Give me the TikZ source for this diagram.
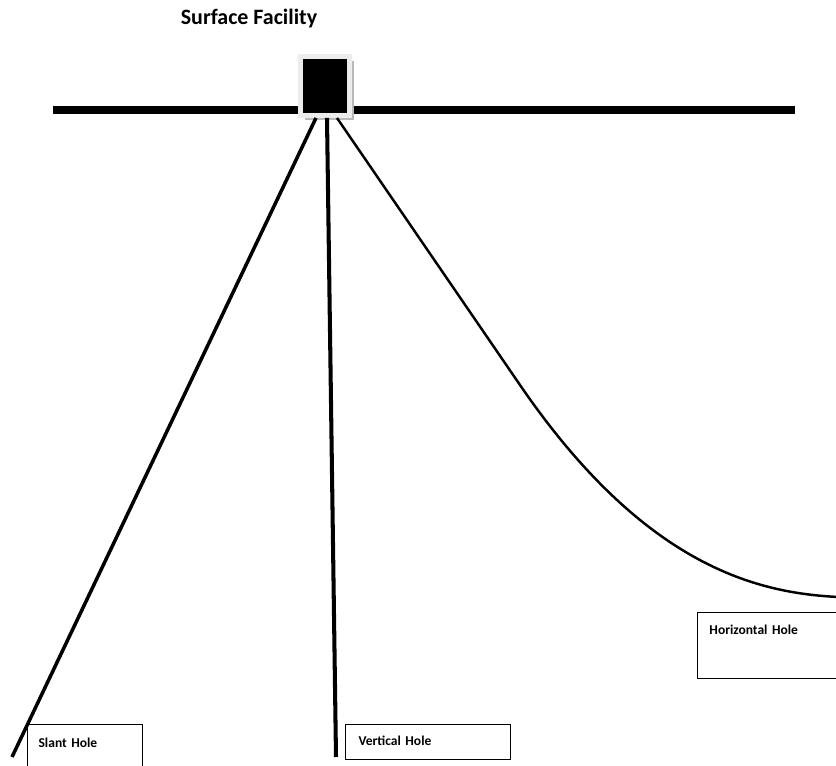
\documentclass[tikz,border=0pt]{standalone}
\usepackage{fontspec}
\setmainfont{Carlito}
\usetikzlibrary{calc,shadows}
\tikzset{
  holebox/.style={draw=black, line width=0.6pt, anchor=north west, align=left, inner ysep=0pt, font=\fontsize{7.7}{9}\selectfont\bfseries},
  facility/.style={shape=rectangle, fill=black, draw=gray!15, line width=2.8pt, inner sep=0pt,
    general shadow={fill=gray!55, shadow xshift=2.5pt, shadow yshift=-2.5pt}}
}
\begin{document}
\begin{tikzpicture}[x=0.02cm, y=-0.02cm]
            \useasboundingbox (0,0) rectangle (836,766);
            \node[font=\fontsize{12.5}{15}\selectfont\bfseries] (title) at (249,19) {Surface Facility};

            \coordinate (gl) at (53,110);
            \coordinate (gr) at (795,110);
            \path[draw=black,line width=4pt] (gl) edge (gr);

            \node[facility, minimum width=27.9pt, minimum height=33.6pt] (fac) at (325,86) {};

            \node[holebox, inner xsep=6.3pt, text width=52.8pt, text height=13.3pt, text depth=16.7pt] (slant) at (27,724) {Slant Hole};
            \node[holebox, inner xsep=7.4pt, text width=79.1pt, text height=12.2pt, text depth=7.8pt] (vert) at (345,724) {Vertical Hole};
            \node[holebox, inner xsep=6.8pt, text width=70.6pt, text height=12.7pt, text depth=24.9pt] (horiz) at (697,612) {Horizontal Hole};

            \coordinate (st) at ($(fac.south)+(-9,0)$);
            \coordinate (vt) at ($(fac.south)+(2,0)$);
            \coordinate (ht) at ($(fac.south)+(12,0)$);
            \coordinate (se) at (12,757);
            \coordinate (ve) at (336,757);
            \coordinate (hb) at (520,385);
            \coordinate (he) at (838,597);

            %\path [->] (fac) edge (slant);
            \path[draw=black,line width=2pt] (st) edge (se);
            \path[draw=black,line width=2.3pt] (vt) edge (ve);
            \draw[line width=1.4pt] (ht) -- (hb) .. controls (646,569) and (760,593) .. (he);
\end{tikzpicture}
\end{document}
